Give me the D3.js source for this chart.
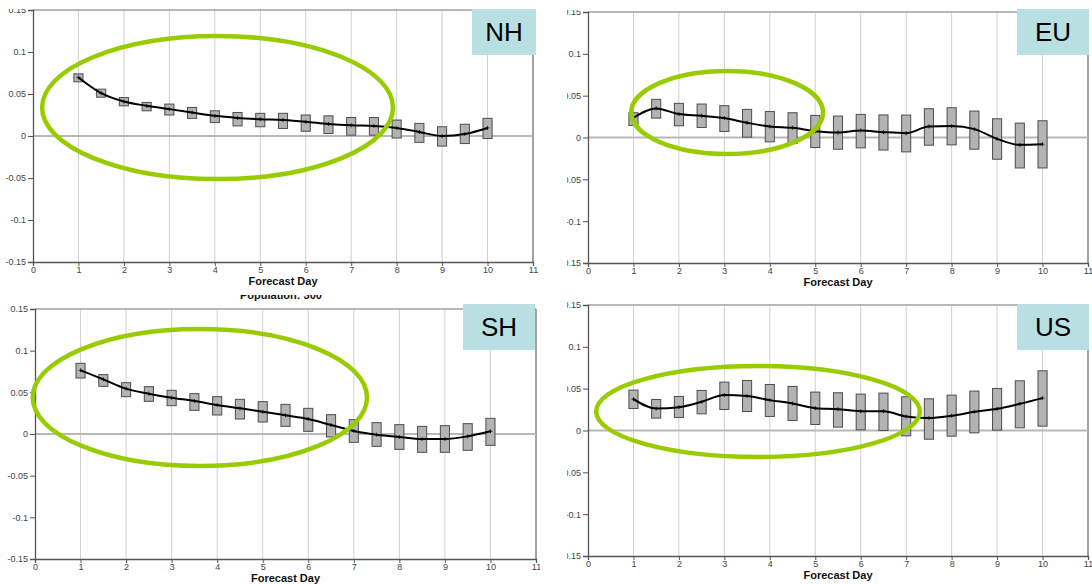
<!DOCTYPE html>
<meta charset="utf-8">
<script src="https://d3js.org/d3.v7.min.js"></script>
<style>
    body { margin: 0; background: #fff; }
    svg { display: block; font-family: "Liberation Sans", Arial, sans-serif; }
</style>
<body>
<div id="my_dataviz"></div>
</body>
<script>
    // forecast days (one box every half day)
    const days = [1, 1.5, 2, 2.5, 3, 3.5, 4, 4.5, 5, 5.5, 6, 6.5, 7, 7.5, 8, 8.5, 9, 9.5, 10];
    const xTicks = [0, 1, 2, 3, 4, 5, 6, 7, 8, 9, 10, 11];
    const yTicks = [-0.15, -0.1, -0.05, 0, 0.05, 0.1, 0.15];
    const yTickLabels = ["-0.15", "-0.1", "-0.05", "0", "0.05", "0.1", "0.15"];

    // NH
    const nhMean = [0.0697, 0.051, 0.041, 0.036, 0.032, 0.028, 0.024, 0.0215, 0.020, 0.019, 0.017, 0.0143, 0.0127, 0.012, 0.0096, 0.0048, 0.0, 0.0024, 0.0096];
    const nhHigh = [0.074, 0.0558, 0.0458, 0.040, 0.038, 0.034, 0.030, 0.028, 0.027, 0.027, 0.025, 0.024, 0.022, 0.022, 0.019, 0.015, 0.011, 0.014, 0.021];
    const nhLow = [0.0645, 0.0462, 0.0359, 0.030, 0.025, 0.021, 0.016, 0.012, 0.011, 0.009, 0.0056, 0.003, 0.001, 0.001, -0.0024, -0.0076, -0.012, -0.009, -0.003];

    // EU
    const euMean = [0.0236, 0.0348, 0.028, 0.026, 0.0232, 0.0176, 0.0132, 0.0116, 0.0076, 0.006, 0.0084, 0.0064, 0.0052, 0.0132, 0.0136, 0.010, -0.0016, -0.0088, -0.008];
    const euHigh = [0.0296, 0.0456, 0.0408, 0.040, 0.038, 0.0336, 0.031, 0.0296, 0.0264, 0.0256, 0.0276, 0.027, 0.0268, 0.0344, 0.0356, 0.0316, 0.0224, 0.0172, 0.020];
    const euLow = [0.0144, 0.0232, 0.014, 0.012, 0.0072, 0.0004, -0.0052, -0.0072, -0.012, -0.014, -0.0124, -0.015, -0.0172, -0.0092, -0.0088, -0.014, -0.026, -0.0364, -0.0364];

    // SH
    const shMean = [0.0764, 0.0656, 0.0544, 0.0484, 0.0436, 0.0396, 0.0348, 0.0308, 0.0268, 0.0224, 0.018, 0.0108, 0.0036, -0.0008, -0.0036, -0.006, -0.006, -0.0028, 0.0032];
    const shHigh = [0.0848, 0.0712, 0.0616, 0.0568, 0.0524, 0.0484, 0.0448, 0.0416, 0.0388, 0.0356, 0.0308, 0.0232, 0.0172, 0.0136, 0.0112, 0.0092, 0.010, 0.0124, 0.0188];
    const shLow = [0.0672, 0.0572, 0.0448, 0.0392, 0.034, 0.0284, 0.0228, 0.018, 0.0144, 0.0092, 0.0032, -0.0036, -0.010, -0.0148, -0.0184, -0.022, -0.022, -0.0196, -0.0136];

    // US
    const usMean = [0.0375, 0.0263, 0.0279, 0.0343, 0.0423, 0.0411, 0.0363, 0.0323, 0.0267, 0.0255, 0.0231, 0.0231, 0.0168, 0.0148, 0.0176, 0.0223, 0.0259, 0.0319, 0.0387];
    const usHigh = [0.0483, 0.0371, 0.0407, 0.0479, 0.0578, 0.0598, 0.055, 0.0527, 0.0459, 0.0451, 0.0435, 0.0447, 0.0403, 0.0379, 0.0423, 0.0471, 0.0503, 0.0594, 0.0714];
    const usLow = [0.0263, 0.0148, 0.0156, 0.0199, 0.0251, 0.0227, 0.0168, 0.012, 0.0072, 0.004, 0.0008, 0.0, -0.0064, -0.0104, -0.0068, -0.0028, 0.0004, 0.0032, 0.0052];

    // highlight rings, in data units: [centre day, centre value, half width in days, half height in value]
    const nhRing = [4.06, 0.0339, 3.86, 0.0851];
    const euRing = [3.06, 0.0299, 2.11, 0.0496];
    const shRing = [3.62, 0.0438, 3.67, 0.0822];
    const usRing = [3.74, 0.0227, 3.56, 0.0544];

    const panels = [
        {name: "NH", mean: nhMean, high: nhHigh, low: nhLow, ring: nhRing,
            left: 33, right: 533, top: 10, bottom: 262, clip: [0, 9, 540, 290],
            tag: [472, 9, 64, 46]},
        {name: "EU", mean: euMean, high: euHigh, low: euLow, ring: euRing,
            left: 588, right: 1088, top: 12, bottom: 263, clip: [567, 10, 525, 280],
            tag: [1017, 9, 72, 46]},
        {name: "SH", mean: shMean, high: shHigh, low: shLow, ring: shRing,
            left: 35, right: 536, top: 309, bottom: 559, clip: [0, 295, 540, 289],
            tag: [463, 304, 72, 46], title: "Population: 300"},
        {name: "US", mean: usMean, high: usHigh, low: usLow, ring: usRing,
            left: 588, right: 1088, top: 305, bottom: 556, clip: [567, 293, 525, 291],
            tag: [1017, 304, 72, 46]}
    ];

    var svg = d3.select("#my_dataviz")
        .append("svg")
        .attr("width", 1092)
        .attr("height", 584);

    panels.forEach(function (p, i) {
        let x = d3.scaleLinear().domain([0, 11]).range([p.left, p.right]);
        let y = d3.scaleLinear().domain([-0.15, 0.15]).range([p.bottom, p.top]);

        svg.append("clipPath")
            .attr("id", "clip" + i)
            .append("rect")
            .attr("x", p.clip[0]).attr("y", p.clip[1])
            .attr("width", p.clip[2]).attr("height", p.clip[3]);

        let g = svg.append("g").attr("clip-path", "url(#clip" + i + ")");

        // vertical grid
        g.selectAll(".grid")
            .data(xTicks.slice(1, -1))
            .enter()
            .append("line")
            .attr("x1", d => x(d)).attr("x2", d => x(d))
            .attr("y1", y(0.15)).attr("y2", y(-0.15))
            .style("stroke", "#d0d0d0")
            .style("stroke-width", 1);

        // top border and right border
        g.append("line")
            .attr("x1", x(0)).attr("x2", x(11))
            .attr("y1", y(0.15)).attr("y2", y(0.15))
            .style("stroke", "#a0a0a0").style("stroke-width", 1.5);
        g.append("line")
            .attr("x1", x(11)).attr("x2", x(11))
            .attr("y1", y(0.15)).attr("y2", y(-0.15))
            .style("stroke", "#666").style("stroke-width", 1.2);

        // zero line
        g.append("line")
            .attr("x1", x(0)).attr("x2", x(11))
            .attr("y1", y(0)).attr("y2", y(0))
            .style("stroke", "#b8b8b8").style("stroke-width", 2);

        // axes
        let yAxis = g.append("g")
            .attr("transform", "translate(" + x(0) + ",0)")
            .call(d3.axisLeft(y).tickValues(yTicks).tickSize(5).tickPadding(2)
                .tickFormat((d, j) => yTickLabels[j]));
        let xAxis = g.append("g")
            .attr("transform", "translate(0," + y(-0.15) + ")")
            .call(d3.axisBottom(x).tickValues(xTicks).tickSize(4).tickPadding(1)
                .tickFormat(d3.format("d")));
        [yAxis, xAxis].forEach(function (a) {
            a.select(".domain").style("stroke", "#555").style("stroke-width", 1.3);
            a.selectAll(".tick line").style("stroke", "#555");
            a.selectAll("text")
                .style("font-family", "'Liberation Sans', Arial, sans-serif")
                .style("font-size", "9px")
                .style("fill", "#444");
        });

        g.append("text")
            .attr("x", x(5.5))
            .attr("y", y(-0.15) + 23)
            .attr("text-anchor", "middle")
            .style("font-size", "11px")
            .style("font-weight", "bold")
            .style("fill", "#111")
            .text("Forecast Day");

        if (p.title) {
            g.append("text")
                .attr("x", x(5.4))
                .attr("y", y(0.15) - 10)
                .attr("text-anchor", "middle")
                .style("font-size", "11px")
                .style("font-weight", "bold")
                .style("fill", "#111")
                .text(p.title);
        }

        let rows = days.map((d, j) => ({day: d, mean: p.mean[j], high: p.high[j], low: p.low[j]}));

        // boxes
        g.selectAll(".box")
            .data(rows)
            .enter()
            .append("rect")
            .attr("x", d => x(d.day - 0.1))
            .attr("y", d => y(d.high))
            .attr("width", d => x(d.day + 0.1) - x(d.day - 0.1))
            .attr("height", d => y(d.low) - y(d.high))
            .style("fill", "#b3b3b3")
            .style("stroke", "#4d4d4d")
            .style("stroke-width", 1);

        // mean line
        g.append("path")
            .datum(rows)
            .attr("d", d3.line()
                .x(d => x(d.day))
                .y(d => y(d.mean))
                .curve(d3.curveMonotoneX))
            .style("fill", "none")
            .style("stroke", "#000")
            .style("stroke-width", 2);

        g.selectAll(".mark")
            .data(rows)
            .enter()
            .append("path")
            .attr("d", d => "M" + (x(d.day) - 2) + "," + y(d.mean) + "h4M" + x(d.day) + "," + (y(d.mean) - 2) + "v4")
            .style("stroke", "#000")
            .style("stroke-width", 0.8);

        // highlight ring
        svg.append("ellipse")
            .attr("cx", x(p.ring[0]))
            .attr("cy", y(p.ring[1]))
            .attr("rx", x(p.ring[2]) - x(0))
            .attr("ry", y(0) - y(p.ring[3]))
            .style("fill", "none")
            .style("stroke", "#99cc00")
            .style("stroke-width", 4.5);

        // region tag
        svg.append("rect")
            .attr("x", p.tag[0]).attr("y", p.tag[1])
            .attr("width", p.tag[2]).attr("height", p.tag[3])
            .style("fill", "#b8e0e3");
        svg.append("text")
            .attr("x", p.tag[0] + p.tag[2] / 2)
            .attr("y", p.tag[1] + p.tag[3] / 2 + 9)
            .attr("text-anchor", "middle")
            .style("font-size", "26px")
            .style("fill", "#000")
            .text(p.name);
    });
</script>
</html>
